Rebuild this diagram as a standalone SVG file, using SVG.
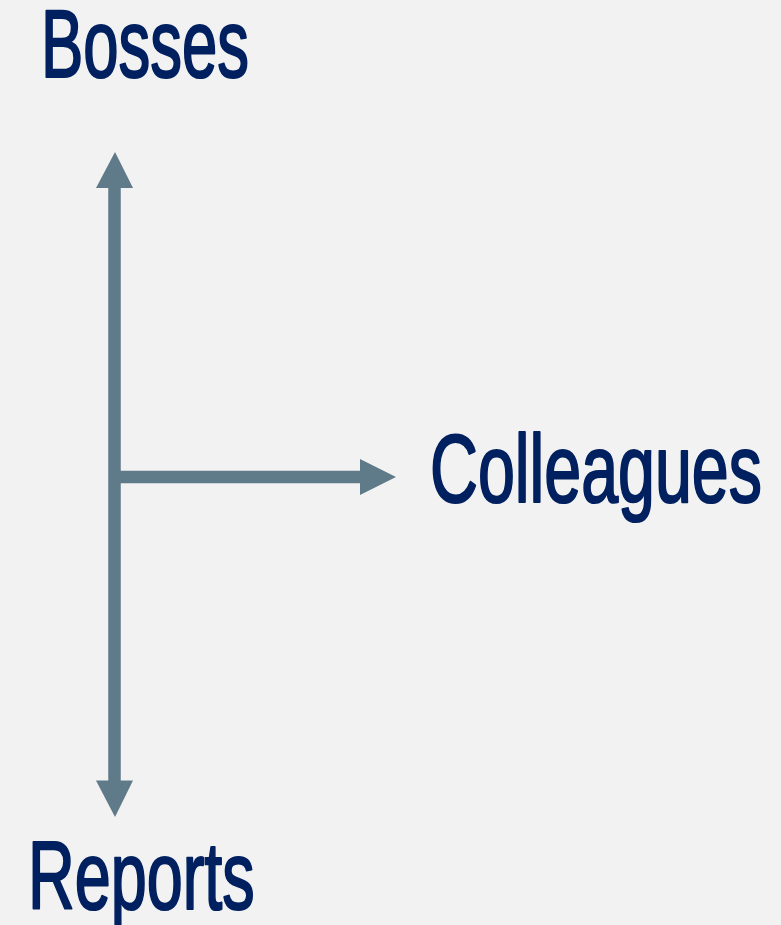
<svg xmlns="http://www.w3.org/2000/svg" width="781" height="925" viewBox="0 0 781 925">
  <style>
    .lbl { font-family: "Liberation Sans", Arial, sans-serif; font-weight: normal; font-size: 97px; fill: #002060; stroke: #002060; stroke-width: 2.2; stroke-linejoin: round; }
    .ln { stroke: #5f7a89; stroke-width: 12.5; fill: none; }
    .hd { fill: #5f7a89; }
  </style>
  <rect width="781" height="925" fill="#f2f2f2"/>
  <g id="connectors">
    <line class="ln" x1="114.5" y1="186" x2="114.5" y2="783"/>
    <polygon class="hd" points="115,152 96,188 133,188"/>
    <polygon class="hd" points="115,817 96,780.5 133,780.5"/>
    <line class="ln" x1="114.5" y1="477" x2="362" y2="477"/>
    <polygon class="hd" points="396,477 360,459 360,495"/>
  </g>
  <g id="bosses">
    <text class="lbl" transform="translate(41,77) scale(0.654,1)" x="0" y="0">Bosses</text>
  </g>
  <g id="colleagues">
    <text class="lbl" transform="translate(430,502) scale(0.684,1)" x="0" y="0">Colleagues</text>
  </g>
  <g id="reports">
    <text class="lbl" transform="translate(28,909) scale(0.667,1)" x="0" y="0">Reports</text>
  </g>
</svg>
